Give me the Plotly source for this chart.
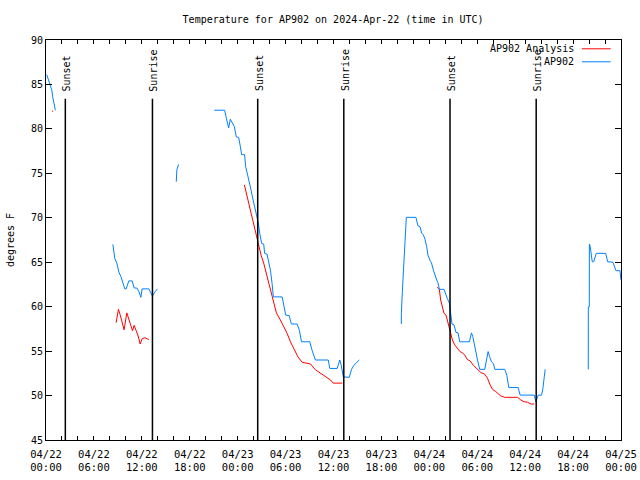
import pandas as pd
import plotly.graph_objects as go

BASE = pd.Timestamp("2024-04-22 00:00")

# hours after 2024-04-22 00:00 UTC; None = gap in data
blue_hours = [
    0.09, 0.29, 0.50, 0.72, 0.84, 1.00, 1.17, None,
    8.37, 8.62, 8.87, 9.12, 9.37, 9.62, 9.87, 10.04, 10.37, 10.79, 11.04, 11.38,
    11.63, 11.88, 12.04, 12.88, 13.13, 13.33, 13.67, 13.96, None,
    16.31, 16.39, 16.60, None,
    21.07, 22.37, 22.58, 22.87, 23.08, 23.33, 23.58, 23.83, 24.12, 24.34, 24.50,
    24.87, 25.00, 25.25, 25.46, 25.68, 25.93, 26.18, 26.43, 26.59, 26.76, 27.01,
    27.26, 27.38, 27.68, 27.88, 28.10, 28.31, 28.47, 29.57, 29.77, 30.02, 30.44,
    30.73, 31.45, 31.74, 31.99, 33.03, 33.33, 33.74, 35.34, 35.54, 36.46, 36.79,
    36.97, 37.22, 37.97, 38.26, 38.55, 39.22, None,
    44.49, 44.50, 44.62, 44.74, 44.91, 45.00, 45.12, 46.32, 46.57, 46.83, 47.04,
    47.25, 47.45, 47.67, 47.83, 48.08, 48.26, 48.51, 48.71, 48.92, 49.08, 49.26,
    49.84, 50.05, 50.26, 50.51, 50.68, 50.84, 51.09, 51.34, 51.59, 51.81, 53.02,
    53.27, 53.44, 53.60, 53.81, 54.03, 54.31, 54.94, 55.16, 55.36, 55.53, 55.78,
    56.03, 56.20, 57.45, 57.70, 57.95, 59.12, 59.37, 61.13, 61.34, 61.46, 61.63,
    62.05, 62.22, 62.39, 62.51, None,
    67.90, 67.91, 68.03, 68.04, 68.15, 68.24, 68.40, 68.58, 68.78, 68.90, 70.08,
    70.33, 70.99, 71.16, 71.37, 71.87, 72.00,
]
blue_temps = [
    86.1, 85.5, 84.9, 84.4, 83.6, 82.9, 82.1, None,
    67.0, 65.4, 64.9, 63.9, 63.4, 62.6, 62.0, 62.0, 62.9, 62.9, 62.1, 62.1,
    61.7, 61.05, 62.0, 62.0, 61.6, 61.2, 61.7, 62.0, None,
    74.06, 75.4, 76.0, None,
    82.1, 82.1, 81.2, 80.1, 81.1, 80.6, 80.25, 79.1, 79.05, 78.0, 77.1,
    77.1, 75.75, 74.8, 74.1, 73.1, 72.0, 71.1, 70.3, 69.4, 68.25, 67.1,
    67.05, 66.0, 65.9, 65.1, 64.1, 62.6, 61.1, 61.1, 60.0, 59.05, 59.0,
    58.05, 58.05, 57.3, 56.05, 56.05, 55.05, 54.0, 54.0, 53.05, 53.05, 54.0,
    53.4, 52.1, 52.05, 52.95, 53.4, 54.0, None,
    58.05, 59.25, 61.7, 64.1, 66.4, 68.8, 70.05, 70.05, 69.1, 69.0, 68.25,
    68.1, 67.6, 66.75, 65.8, 65.2, 64.95, 64.1, 63.45, 63.0, 62.7, 61.95,
    61.95, 61.3, 60.9, 60.4, 59.05, 58.05, 57.95, 57.1, 57.05, 56.05, 56.05,
    57.05, 56.65, 55.9, 54.75, 54.0, 52.95, 52.95, 54.0, 54.95, 54.4, 53.8,
    53.6, 52.95, 52.95, 52.3, 50.9, 50.9, 50.05, 50.05, 49.3, 49.7, 50.05,
    50.05, 50.8, 52.1, 52.95, None,
    52.95, 60.0, 60.0, 67.05, 66.75, 66.0, 65.05, 65.05, 65.6, 66.0, 66.0,
    65.05, 65.0, 64.5, 64.05, 64.05, 63.0,
]

red_hours = [
    0.75, 0.90, None,
    8.78, 9.07, 9.28, 9.62, 9.78, 10.12, 10.37, 10.62, 10.83, 11.04, 11.29,
    11.54, 11.79, 12.04, 12.38, 12.88, None,
    24.84, 25.18, 25.50, 25.80, 26.09, 26.34, 26.63, 26.93, 27.26, 27.60, 27.88,
    28.19, 28.51, 28.85, 29.35, 29.77, 30.19, 30.61, 31.02, 31.52, 32.07, 32.70,
    33.12, 33.74, 34.37, 35.00, 35.62, 35.96, 37.09, None,
    49.01, 49.26, 49.42, 49.64, 49.84, 50.09, 50.26, 50.46, 50.68, 50.89, 51.18,
    51.52, 51.84, 52.15, 52.43, 52.77, 53.10, 53.52, 54.03, 54.44, 54.94, 55.28,
    55.61, 55.91, 56.32, 56.95, 57.45, 59.04, 59.46, 59.87, 60.30, 60.71, 61.13,
]
red_temps = [
    82.0, 82.0, None,
    58.2, 59.7, 59.1, 57.9, 57.4, 59.3, 58.7, 57.9, 57.3, 57.9, 57.3,
    56.7, 55.8, 56.4, 56.5, 56.3, None,
    73.7, 72.4, 71.25, 70.1, 69.0, 67.9, 66.75, 65.8, 64.9, 63.75, 62.6,
    61.5, 60.55, 59.3, 58.5, 57.75, 57.0, 56.05, 55.3, 54.4, 53.75, 53.6,
    53.55, 52.9, 52.5, 52.1, 51.75, 51.4, 51.4, None,
    62.2, 61.9, 60.75, 59.8, 59.25, 59.05, 58.3, 57.75, 57.0, 56.25, 55.7,
    55.3, 54.95, 54.8, 54.55, 54.05, 53.9, 53.4, 52.9, 52.6, 52.4, 51.95,
    51.2, 50.7, 50.45, 49.95, 49.8, 49.8, 49.5, 49.3, 49.25, 49.05, 49.05,
]

sun_event_hours = [2.42, 13.33, 26.51, 37.29, 50.59, 61.38]
sun_event_labels = ["Sunset", "Sunrise", "Sunset", "Sunrise", "Sunset", "Sunrise"]

tick_hours = list(range(0, 73, 2))
tick_labels = {0: "04/22<br>00:00", 6: "04/22<br>06:00", 12: "04/22<br>12:00",
               18: "04/22<br>18:00", 24: "04/23<br>00:00", 30: "04/23<br>06:00",
               36: "04/23<br>12:00", 42: "04/23<br>18:00", 48: "04/24<br>00:00",
               54: "04/24<br>06:00", 60: "04/24<br>12:00", 66: "04/24<br>18:00",
               72: "04/25<br>00:00"}

series_names = ["AP902 Analysis", "AP902"]
series_colors = ["#ff0000", "#0080ff"]


def to_time(hours):
    return [None if h is None else BASE + pd.Timedelta(hours=h) for h in hours]


FONT = "DejaVu Sans Mono"

fig = go.Figure()
fig.add_trace(go.Scatter(x=to_time(red_hours), y=red_temps, mode="lines",
                         name=series_names[0], showlegend=False,
                         line=dict(color=series_colors[0], width=1)))
fig.add_trace(go.Scatter(x=to_time(blue_hours), y=blue_temps, mode="lines",
                         name=series_names[1], showlegend=False,
                         line=dict(color=series_colors[1], width=1)))

for h, lab in zip(sun_event_hours, sun_event_labels):
    t = BASE + pd.Timedelta(hours=h)
    fig.add_shape(type="line", x0=t, x1=t, xref="x", y0=0, y1=0.853, yref="paper",
                  line=dict(color="black", width=1.5))
    fig.add_annotation(x=t, y=0.867, xref="x", yref="paper", text=lab,
                       textangle=-90, showarrow=False, xanchor="center",
                       yanchor="bottom", xshift=1,
                       font=dict(family=FONT, size=10, color="black"))

# gnuplot-style key: text right-aligned, line sample to the right
for i, (name, col) in enumerate(zip(series_names, series_colors)):
    yy = 0.978 - i * 0.0325
    fig.add_annotation(x=0.922, y=yy, xref="paper", yref="paper", text=name,
                       showarrow=False, xanchor="right", yanchor="middle",
                       font=dict(family=FONT, size=10, color="black"))
    fig.add_shape(type="line", x0=0.932, x1=0.982, y0=yy, y1=yy,
                  xref="paper", yref="paper", line=dict(color=col, width=1))

fig.update_layout(
    width=640, height=480,
    margin=dict(l=46, r=19, t=40, b=40, autoexpand=False),
    paper_bgcolor="white", plot_bgcolor="white",
    font=dict(family=FONT, size=10, color="black"),
    title=dict(text="Temperature for AP902 on 2024-Apr-22 (time in UTC)",
               x=0.5205, xanchor="center", y=1 - 19 / 480, yanchor="middle",
               font=dict(family=FONT, size=10)),
    showlegend=False,
)
fig.update_xaxes(
    range=[BASE, BASE + pd.Timedelta(hours=72)],
    tickmode="array",
    tickvals=[BASE + pd.Timedelta(hours=h) for h in tick_hours],
    ticktext=[tick_labels.get(h, "") for h in tick_hours],
    ticks="inside", ticklen=4, tickcolor="black", tickwidth=1,
    showline=True, linecolor="black", linewidth=1, mirror="ticks",
    showgrid=False, zeroline=False, tickangle=0,
    ticklabelstandoff=4,
    tickfont=dict(family=FONT, size=10.5),
)
fig.update_yaxes(
    range=[45, 90], dtick=5, tick0=45,
    ticks="inside", ticklen=6, tickcolor="black", tickwidth=1,
    showline=True, linecolor="black", linewidth=1, mirror="ticks",
    showgrid=False, zeroline=False,
    title=dict(text="degrees F", standoff=14, font=dict(family=FONT, size=10)),
)

fig.write_html("out.html",
               config={"displayModeBar": False},
               post_script="document.body.style.margin='0';"
                           "document.body.style.padding='0';")
